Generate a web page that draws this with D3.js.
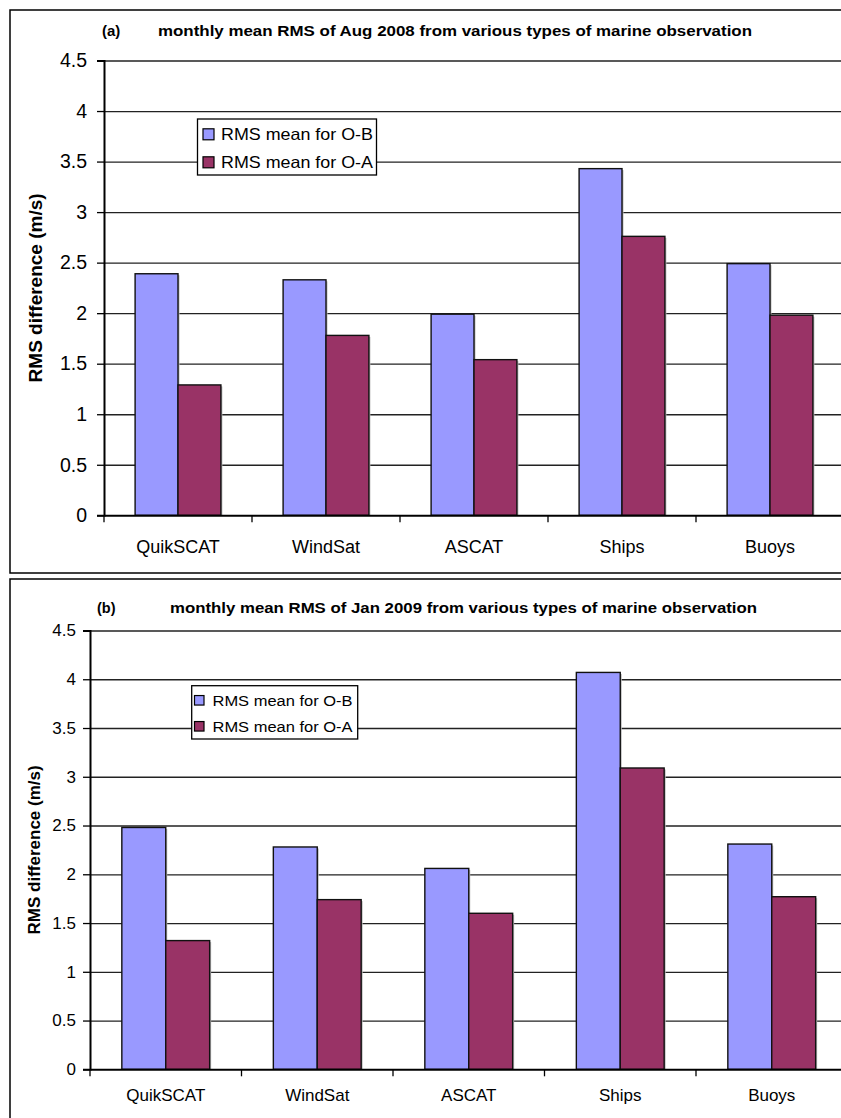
<!DOCTYPE html>
<html>
<head>
<meta charset="utf-8">
<script src="https://cdn.jsdelivr.net/npm/d3@7/dist/d3.min.js"></script>
<style>
  html, body { margin: 0; padding: 0; background: #fff; }
  svg { display: block; font-family: "Liberation Sans", Arial, sans-serif; }
</style>
</head>
<body>
<svg id="chart" width="841" height="1118"></svg>
<script>
// ---------- data ----------
const categories = ["QuikSCAT", "WindSat", "ASCAT", "Ships", "Buoys"];
const seriesNames = ["RMS mean for O-B", "RMS mean for O-A"];
const seriesColors = ["#9999FF", "#993366"];
const aug2008_OB = [2.39, 2.33, 1.99, 3.43, 2.49];
const aug2008_OA = [1.29, 1.78, 1.54, 2.76, 1.98];
const jan2009_OB = [2.48, 2.28, 2.06, 4.07, 2.31];
const jan2009_OA = [1.32, 1.74, 1.60, 3.09, 1.77];
const yTicks = [0, 0.5, 1, 1.5, 2, 2.5, 3, 3.5, 4, 4.5];
const yTickLabels = ["0", "0.5", "1", "1.5", "2", "2.5", "3", "3.5", "4", "4.5"];
const panelTags = ["(a)", "(b)"];
const panelTitles = [
  "monthly mean RMS of Aug 2008 from various types of marine observation",
  "monthly mean RMS of Jan 2009 from various types of marine observation"
];
const yAxisTitle = "RMS difference (m/s)";

// ---------- layout ----------
const panels = [
  { ob: aug2008_OB, oa: aug2008_OA, tag: panelTags[0], title: panelTitles[0],
    box: [10, 10, 850, 573], left: 104, right: 844, top: 60.5, bottom: 515.3,
    tagX: 102, titleX: 158, titleEnd: 752, titleY: 36, titleFs: 15,
    tickFs: 19.5, tickRight: 87, catFs: 18, catY: 553,
    yTitleX: 35, yTitleFs: 19,
    legend: { x: 197.5, y: 119, w: 179, h: 56, sw: 11, textX: 221, rows: [134.3, 162.3], fs: 16.5, textW: 152 } },
  { ob: jan2009_OB, oa: jan2009_OA, tag: panelTags[1], title: panelTitles[1],
    box: [10, 579, 850, 1130], left: 90, right: 847.5, top: 630.5, bottom: 1069.3,
    tagX: 97, titleX: 170, titleEnd: 757, titleY: 613, titleFs: 14.5,
    tickFs: 17, tickRight: 76, catFs: 17, catY: 1101,
    yTitleX: 34, yTitleFs: 17,
    legend: { x: 191.7, y: 685.7, w: 166, h: 53.3, sw: 9.5, textX: 212.5, rows: [700.3, 726.3], fs: 15.2, textW: 140 } }
];

const svg = d3.select("#chart");

panels.forEach(p => {
  const g = svg.append("g");

  // outer frame
  g.append("rect")
    .attr("x", p.box[0]).attr("y", p.box[1])
    .attr("width", p.box[2] - p.box[0]).attr("height", p.box[3] - p.box[1])
    .attr("fill", "#fff").attr("stroke", "#000").attr("stroke-width", 1.5);

  const x0 = d3.scaleBand().domain(categories).range([p.left, p.right]).paddingInner(0).paddingOuter(0);
  const x1 = d3.scaleBand().domain(seriesNames).range([0, x0.bandwidth()]).paddingInner(0).paddingOuter(0.725);
  const y = d3.scaleLinear().domain([0, 4.5]).range([p.bottom, p.top]);

  // gridlines
  const grid = g.append("g").attr("transform", `translate(${p.left},0)`)
    .call(d3.axisLeft(y).tickValues(yTicks.slice(1)).tickSize(-(p.right - p.left)).tickFormat(""));
  grid.select(".domain").remove();
  grid.selectAll("line").attr("stroke", "#222").attr("stroke-width", 1.3);

  // bars
  const rows = categories.map((c, i) => ({ cat: c, vals: [p.ob[i], p.oa[i]] }));
  const grp = g.append("g").selectAll("g").data(rows).join("g")
    .attr("transform", d => `translate(${x0(d.cat)},0)`);
  // shadow
  grp.selectAll("rect.sh").data(d => d.vals.map((v, k) => ({ s: seriesNames[k], v, k })))
    .join("rect").attr("class", "sh")
    .attr("x", d => x1(d.s) + 1.5).attr("y", d => y(d.v) + 1.5)
    .attr("width", x1.bandwidth()).attr("height", d => y(0) - y(d.v) - 1.5)
    .attr("fill", "#bbb");
  grp.selectAll("rect.bar").data(d => d.vals.map((v, k) => ({ s: seriesNames[k], v, k })))
    .join("rect").attr("class", "bar")
    .attr("x", d => x1(d.s)).attr("y", d => y(d.v))
    .attr("width", x1.bandwidth()).attr("height", d => y(0) - y(d.v))
    .attr("fill", d => seriesColors[d.k]).attr("stroke", "#111").attr("stroke-width", 1.4);

  // y axis
  const ya = g.append("g").attr("transform", `translate(${p.left},0)`)
    .call(d3.axisLeft(y).tickValues(yTicks).tickSize(7).tickPadding(p.left - 7 - p.tickRight)
      .tickFormat((d, i) => yTickLabels[i]));
  ya.select(".domain").attr("stroke", "#000").attr("stroke-width", 2);
  ya.selectAll("line").attr("stroke", "#000").attr("stroke-width", 1.3);
  ya.selectAll("text").attr("font-size", p.tickFs).attr("fill", "#000")
    .attr("font-family", "Liberation Sans, Arial, sans-serif");

  // x axis
  const xa = g.append("g").attr("transform", `translate(0,${p.bottom})`)
    .call(d3.axisBottom(x0).tickSize(0).tickPadding(p.catY - p.bottom - p.catFs * 0.72));
  xa.select(".domain").attr("stroke", "#000").attr("stroke-width", 2);
  xa.selectAll("text").attr("font-size", p.catFs).attr("fill", "#000")
    .attr("dy", "0.72em").attr("y", p.catY - p.bottom - p.catFs * 0.72)
    .attr("font-family", "Liberation Sans, Arial, sans-serif");
  const bounds = categories.map(c => x0(c)).concat([x0.range()[1]]);
  g.append("g").selectAll("line").data(bounds).join("line")
    .attr("x1", d => d).attr("x2", d => d)
    .attr("y1", p.bottom).attr("y2", p.bottom + 7)
    .attr("stroke", "#000").attr("stroke-width", 1.3);

  // y axis title
  g.append("text")
    .attr("transform", `translate(${p.yTitleX},${(p.top + p.bottom) / 2}) rotate(-90)`)
    .attr("text-anchor", "middle").attr("dy", "0.35em")
    .attr("font-weight", "bold").attr("font-size", p.yTitleFs)
    .text(yAxisTitle);

  // title
  g.append("text").attr("x", p.tagX).attr("y", p.titleY)
    .attr("font-weight", "bold").attr("font-size", p.titleFs).text(p.tag);
  g.append("text").attr("x", p.titleX).attr("y", p.titleY)
    .attr("font-weight", "bold").attr("font-size", p.titleFs)
    .attr("textLength", p.titleEnd - p.titleX).attr("lengthAdjust", "spacingAndGlyphs")
    .text(p.title);

  // legend
  const L = p.legend;
  g.append("rect").attr("x", L.x).attr("y", L.y).attr("width", L.w).attr("height", L.h)
    .attr("fill", "#fff").attr("stroke", "#000").attr("stroke-width", 1.3);
  seriesNames.forEach((s, k) => {
    g.append("rect").attr("x", L.textX - 18).attr("y", L.rows[k] - L.sw / 2)
      .attr("width", L.sw).attr("height", L.sw)
      .attr("fill", seriesColors[k]).attr("stroke", "#000").attr("stroke-width", 1.2);
    g.append("text").attr("x", L.textX).attr("y", L.rows[k]).attr("dy", "0.36em")
      .attr("font-size", L.fs).attr("textLength", L.textW).attr("lengthAdjust", "spacingAndGlyphs")
      .text(s);
  });
});
</script>
</body>
</html>
